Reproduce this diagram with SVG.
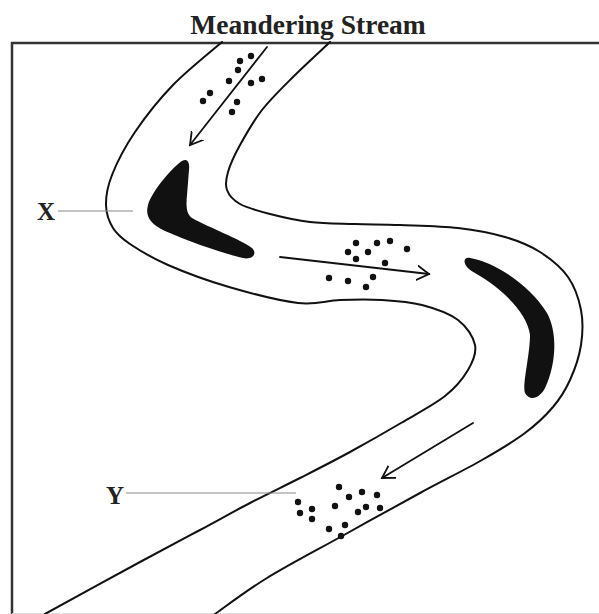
<svg xmlns="http://www.w3.org/2000/svg" width="599" height="614" viewBox="0 0 599 614">
  <style>
    .bank { fill: none; stroke: #111; stroke-width: 2; stroke-linecap: round; stroke-linejoin: round; }
    .bar { fill: #111; stroke: none; }
    .sed circle { fill: #111; }
    .flow { fill: none; stroke: #111; stroke-width: 1.8; stroke-linecap: round; stroke-linejoin: round; }
    .leader { fill: none; stroke: #8a8a8a; stroke-width: 1; }
    .lbl { font-family: "Liberation Serif", "Times New Roman", serif; font-weight: bold; fill: #222; }
  </style>
  <defs>
    <marker id="vhead" viewBox="-12 -8 14 16" markerWidth="14" markerHeight="16" refX="0" refY="0" orient="auto" markerUnits="userSpaceOnUse">
      <path d="M -20,-12 L 0,0 L -20,12" fill="none" stroke="#111" stroke-width="1.8"/>
    </marker>
  </defs>
  <rect width="599" height="614" fill="#fff"/>

  <g id="title">
    <text class="lbl" x="308" y="34" font-size="27.5" text-anchor="middle">Meandering Stream</text>
  </g>

  <g id="frame">
    <path d="M 12,614 L 12,43 L 599,43" fill="none" stroke="#333" stroke-width="2.5"/>
    <line x1="12" y1="613.5" x2="599" y2="613.5" stroke="#e2e2e2" stroke-width="1"/>
  </g>

  <g id="stream">
    <path class="bank" d="M 222,42 C 213.8,49.2 187.5,70 173,85 C 158.5,100 145.2,117 135,132 C 124.8,147 116.8,162.8 112,175 C 107.2,187.2 105.8,196.2 106,205 C 106.2,213.8 109,221.5 113,228 C 117,234.5 120.8,237.8 130,244 C 139.2,250.2 151.5,257.8 168,265 C 184.5,272.2 207.3,280.7 229,287 C 250.7,293.3 279.5,300.8 298,303 C 316.5,305.2 326,300.5 340,300 C 354,299.5 368.3,299.2 382,300 C 395.7,300.8 409.3,301.7 422,305 C 434.7,308.3 449.2,313.3 458,320 C 466.8,326.7 473.3,336.7 475,345 C 476.7,353.3 473,361.5 468,370 C 463,378.5 456.2,387.2 445,396 C 433.8,404.8 416.8,413.7 401,423 C 385.2,432.3 366.8,442.8 350,452 C 333.2,461.2 316.7,469.5 300,478 C 283.3,486.5 266.7,494.3 250,503 C 233.3,511.7 218.3,520.2 200,530 C 181.7,539.8 165.5,548.2 140,562 C 114.5,575.8 60.5,605.5 45,614"/>
    <path class="bank" d="M 330,42 C 324,47.7 305.3,64.7 294,76 C 282.7,87.3 271,98.5 262,110 C 253,121.5 245.7,134.7 240,145 C 234.3,155.3 230.2,164.5 228,172 C 225.8,179.5 225,184.7 227,190 C 229,195.3 232.8,200 240,204 C 247.2,208 258.3,211 270,214 C 281.7,217 295.8,220.3 310,222 C 324.2,223.7 340,223.5 355,224 C 370,224.5 382.8,224.3 400,225 C 417.2,225.7 440.5,226 458,228 C 475.5,230 491.3,233 505,237 C 518.7,241 529.5,245.3 540,252 C 550.5,258.7 561.2,267.3 568,277 C 574.8,286.7 578.8,298.7 581,310 C 583.2,321.3 582.8,333.3 581,345 C 579.2,356.7 574.7,369.7 570,380 C 565.3,390.3 560.5,398.2 553,407 C 545.5,415.8 536.8,424.2 525,433 C 513.2,441.8 499.5,450 482,460 C 464.5,470 443,480.5 420,493 C 397,505.5 369.5,520.8 344,535 C 318.5,549.2 288.5,564.8 267,578 C 245.5,591.2 223.7,608 215,614"/>
  </g>

  <g id="bar-x">
    <path class="bar" d="M 182,161 C 176,164 152,190 148,205 C 145,216 150,224 165,231 C 190,242 225,254 243,258 C 252,260 258,254 252,248 C 240,239 210,228 192,218 C 186,214 186,205 187,195 L 189,170 C 190,162 187,158 182,161 Z"/>
  </g>

  <g id="bar-right">
    <path class="bar" d="M 470,258 C 495,262 530,285 547,313 C 558,333 556,365 545,388 C 540,398 530,402 525,393 C 522,385 530,355 530,335 C 528,315 505,290 475,273 C 462,267 462,256 470,258 Z"/>
  </g>

  <g id="sediment-upper" class="sed">
    <circle cx="251" cy="56" r="3.2"/>
    <circle cx="240" cy="61" r="3.2"/>
    <circle cx="238" cy="70" r="3.2"/>
    <circle cx="229" cy="81" r="3.2"/>
    <circle cx="251" cy="83" r="3.2"/>
    <circle cx="262" cy="79" r="3.2"/>
    <circle cx="210" cy="93" r="3.2"/>
    <circle cx="203" cy="101" r="3.2"/>
    <circle cx="237" cy="102" r="3.2"/>
    <circle cx="232" cy="112" r="3.2"/>
  </g>

  <g id="sediment-middle" class="sed">
    <circle cx="356" cy="243" r="3.2"/>
    <circle cx="377" cy="243" r="3.2"/>
    <circle cx="390" cy="241" r="3.2"/>
    <circle cx="348" cy="252" r="3.2"/>
    <circle cx="368" cy="252" r="3.2"/>
    <circle cx="407" cy="249" r="3.2"/>
    <circle cx="356" cy="259" r="3.2"/>
    <circle cx="385" cy="263" r="3.2"/>
    <circle cx="329" cy="278" r="3.2"/>
    <circle cx="348" cy="281" r="3.2"/>
    <circle cx="373" cy="277" r="3.2"/>
    <circle cx="366" cy="287" r="3.2"/>
  </g>

  <g id="sediment-lower" class="sed">
    <circle cx="339" cy="487" r="3.2"/>
    <circle cx="298" cy="502" r="3.2"/>
    <circle cx="349" cy="497" r="3.2"/>
    <circle cx="362" cy="492" r="3.2"/>
    <circle cx="377" cy="495" r="3.2"/>
    <circle cx="335" cy="506" r="3.2"/>
    <circle cx="300" cy="513" r="3.2"/>
    <circle cx="312" cy="509" r="3.2"/>
    <circle cx="366" cy="507" r="3.2"/>
    <circle cx="358" cy="512" r="3.2"/>
    <circle cx="380" cy="508" r="3.2"/>
    <circle cx="312" cy="519" r="3.2"/>
    <circle cx="329" cy="529" r="3.2"/>
    <circle cx="345" cy="525" r="3.2"/>
    <circle cx="341" cy="536" r="3.2"/>
  </g>

  <g id="label-x">
    <text class="lbl" x="37" y="220" font-size="25">X</text>
  </g>
  <g id="label-y">
    <text class="lbl" x="106" y="504" font-size="25">Y</text>
  </g>

  <g id="connectors">
    <line class="leader" x1="58" y1="211" x2="133" y2="211"/>
    <line class="leader" x1="126" y1="493" x2="296" y2="493"/>
    <line class="flow" x1="267" y1="47" x2="190" y2="145" marker-end="url(#vhead)"/>
    <line class="flow" x1="280" y1="257" x2="429" y2="274" marker-end="url(#vhead)"/>
    <line class="flow" x1="473" y1="423" x2="382" y2="478" marker-end="url(#vhead)"/>
  </g>
</svg>
